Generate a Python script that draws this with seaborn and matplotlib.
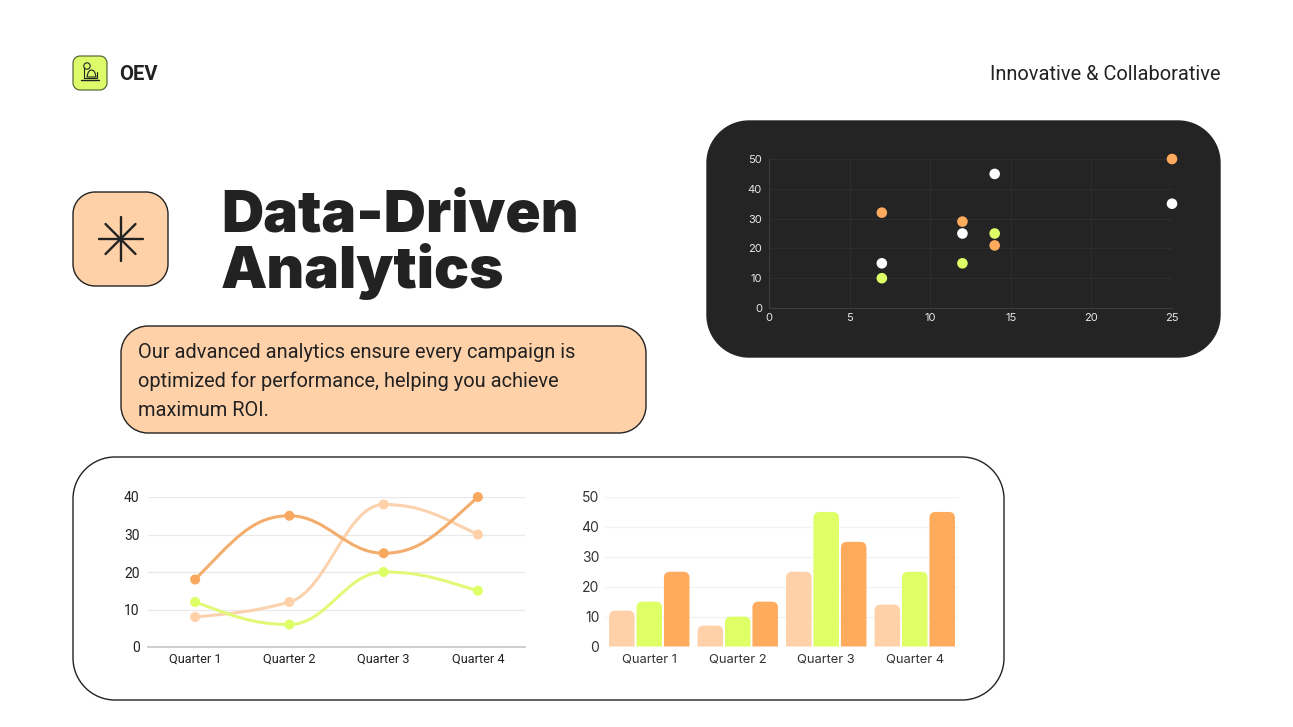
import numpy as np
import pandas as pd
import seaborn as sns
import matplotlib.pyplot as plt
from matplotlib.patches import PathPatch
from matplotlib.path import Path

W, H = 1293, 727

PEACH = '#FFD1A9'
LIME = '#DEFF66'
ORANGE = '#FFAB5E'
DARK = '#242424'
INK = '#222222'

quarters = ['Quarter 1', 'Quarter 2', 'Quarter 3', 'Quarter 4']

# line chart
line_peach = [8, 12, 38, 30]
line_lime = [12, 6, 20, 15]
line_orange = [18, 35, 25, 40]

# bar chart
bar_peach = [12, 7, 25, 14]
bar_lime = [15, 10, 45, 25]
bar_orange = [25, 15, 35, 45]

# scatter chart
scatter_x = [7, 12, 14, 25]
scatter_orange = [32, 29, 21, 50]
scatter_white = [15, 25, 45, 35]
scatter_lime = [10, 15, 25, None]

sns.set_theme(style='white')
plt.rcParams['font.family'] = ['Inter', 'DejaVu Sans']


def px_axes(fig, left, top, right, bottom, **kwargs):
    return fig.add_axes([left / W, 1 - bottom / H, (right - left) / W, (bottom - top) / H], **kwargs)


def round_box(ax, left, top, right, bottom, r, face, edge=INK, lw=1.0):
    # rounded rectangle with circular corners
    k = r * 0.448
    verts = [
        (left + r, top), (right - r, top),
        (right - k, top), (right, top + k), (right, top + r),
        (right, bottom - r),
        (right, bottom - k), (right - k, bottom), (right - r, bottom),
        (left + r, bottom),
        (left + k, bottom), (left, bottom - k), (left, bottom - r),
        (left, top + r),
        (left, top + k), (left + k, top), (left + r, top),
        (left + r, top),
    ]
    c3 = [Path.CURVE4] * 3
    codes = [Path.MOVETO, Path.LINETO] + c3 + [Path.LINETO] + c3 + [Path.LINETO] + c3 + [Path.LINETO] + c3 + [Path.CLOSEPOLY]
    ax.add_patch(PathPatch(Path(verts, codes), facecolor=face, edgecolor=edge, linewidth=lw))


def monotone_path(values):
    # monotone cubic through the points, written as bezier segments
    y = np.array(values, dtype=float)
    d = np.diff(y)
    t = np.zeros(len(y))
    for i in range(1, len(y) - 1):
        if d[i - 1] * d[i] > 0:
            t[i] = 2 * d[i - 1] * d[i] / (d[i - 1] + d[i])
    t[0] = (3 * d[0] - t[1]) / 2
    t[-1] = (3 * d[-1] - t[-2]) / 2
    verts = [(0, y[0])]
    codes = [Path.MOVETO]
    for i in range(len(d)):
        verts += [(i + 0.4, y[i] + 0.4 * t[i]), (i + 0.6, y[i + 1] - 0.4 * t[i + 1]), (i + 1, y[i + 1])]
        codes += [Path.CURVE4] * 3
    return Path(verts, codes)


def round_top_bars(ax, radius_px=6):
    # seaborn draws plain rectangles, swap each for one with a rounded top
    bars = list(ax.patches)
    pos = ax.get_position()
    rx = radius_px * np.diff(ax.get_xlim())[0] / (pos.width * W)
    ry = radius_px * np.diff(ax.get_ylim())[0] / (pos.height * H)
    for bar in bars:
        x, w, h = bar.get_x(), bar.get_width(), bar.get_height()
        if h == 0:
            continue
        verts = [(x, 0), (x, h - ry), (x, h), (x + rx, h), (x + w - rx, h), (x + w, h), (x + w, h - ry), (x + w, 0), (x, 0)]
        codes = [Path.MOVETO, Path.LINETO, Path.CURVE3, Path.CURVE3, Path.LINETO, Path.CURVE3, Path.CURVE3, Path.LINETO, Path.CLOSEPOLY]
        ax.add_patch(PathPatch(Path(verts, codes), facecolor=bar.get_facecolor(), edgecolor='none', zorder=2))
        bar.set_visible(False)


fig = plt.figure(figsize=(W / 100, H / 100), dpi=100, facecolor='white')

# page layer, in pixel coordinates
page = fig.add_axes([0, 0, 1, 1], zorder=0)
page.set_xlim(0, W)
page.set_ylim(H, 0)
page.axis('off')

round_box(page, 73, 56, 107, 90, 7, '#DCFB6B', edge='#4A5A2A', lw=0.8)
round_box(page, 73, 192, 168, 286, 22, PEACH)
round_box(page, 121, 326, 646, 433, 27, PEACH)
round_box(page, 707, 121, 1220, 357, 42, DARK, edge=DARK)
round_box(page, 73, 457, 1004, 700, 42, 'white')

# logo glyph
page.plot([81, 99], [80, 80], color=INK, lw=1.0)
page.plot([84, 84, 97, 97], [68, 78, 78, 72], color=INK, lw=0.8)
page.add_patch(PathPatch(Path([(87, 77), (88, 70), (91.5, 70), (95, 70), (96, 77), (87, 77)],
                              [Path.MOVETO, Path.CURVE3, Path.CURVE3, Path.CURVE3, Path.CURVE3, Path.CLOSEPOLY]),
                         facecolor='none', edgecolor=INK, lw=0.8))
page.add_patch(plt.Circle((87, 66), 3.2, facecolor='none', edgecolor=INK, lw=0.8))

# asterisk glyph
for dx, dy in [(22, 0), (0, 22), (15, 15), (15, -15)]:
    page.plot([120.5 - dx, 120.5 + dx], [239 - dy, 239 + dy], color=INK, lw=1.7)

page.text(119.5, 74.5, 'OEV', family=['Roboto', 'DejaVu Sans'], fontsize=14.5, fontweight='bold', color=INK, va='center')
page.text(1220, 74.5, 'Innovative & Collaborative', family=['Roboto', 'DejaVu Sans'], fontsize=14.45, color=INK, va='center', ha='right')
page.text(221, 231, 'Data-Driven', family=['Inter', 'DejaVu Sans'], fontsize=42, fontweight='black', color=INK, va='baseline')
page.text(221, 288, 'Analytics', family=['Inter', 'DejaVu Sans'], fontsize=42, fontweight='black', color=INK, va='baseline')
for y, txt in zip([358, 387, 416], ['Our advanced analytics ensure every campaign is',
                                    'optimized for performance, helping you achieve',
                                    'maximum ROI.']):
    page.text(138, y, txt, family=['Roboto', 'DejaVu Sans'], fontsize=14.45, color=INK, va='baseline')

# scatter chart
ax_sc = px_axes(fig, 769, 159, 1172, 308, zorder=2)
sc_df = pd.DataFrame({
    'x': scatter_x * 3,
    'y': scatter_orange + scatter_white + scatter_lime,
    'series': ['orange'] * 4 + ['white'] * 4 + ['lime'] * 4,
}).dropna()
sns.scatterplot(data=sc_df, x='x', y='y', hue='series',
                palette={'orange': ORANGE, 'white': 'white', 'lime': LIME},
                s=58, linewidth=0, legend=False, clip_on=False, zorder=3, ax=ax_sc)
ax_sc.set_xlim(0, 25)
ax_sc.set_ylim(0, 50)
ax_sc.set_xticks(range(0, 26, 5))
ax_sc.set_yticks(range(0, 51, 10))
ax_sc.set_xlabel('')
ax_sc.set_ylabel('')
ax_sc.patch.set_alpha(0)
ax_sc.grid(True, color='#2E2E2E', lw=0.7)
ax_sc.tick_params(colors='#E8E8E8', labelsize=8, length=0)
ax_sc.tick_params(axis='x', pad=3.5)
ax_sc.tick_params(axis='y', pad=5)
for name, spine in ax_sc.spines.items():
    spine.set_visible(name in ('left', 'bottom'))
    spine.set_color('#3C3C3C')
    spine.set_linewidth(0.8)

# line chart
ax_ln = px_axes(fig, 148, 497, 525, 647, zorder=2)
ln_df = pd.DataFrame({
    'quarter': quarters * 3,
    'value': line_peach + line_lime + line_orange,
    'series': ['peach'] * 4 + ['lime'] * 4 + ['orange'] * 4,
})
sns.scatterplot(data=ln_df, x='quarter', y='value', hue='series',
                palette={'peach': PEACH, 'lime': LIME, 'orange': '#F9A860'},
                s=52, linewidth=0, legend=False, clip_on=False, zorder=4, ax=ax_ln)
for values, color in [(line_peach, '#FBD2AE'), (line_lime, '#E1F977'), (line_orange, '#F3AD6C')]:
    ax_ln.add_patch(PathPatch(monotone_path(values), facecolor='none', edgecolor=color, lw=2.2, zorder=3))
ax_ln.set_xlim(-0.5, 3.5)
ax_ln.set_ylim(0, 40)
ax_ln.set_yticks(range(0, 41, 10))
ax_ln.set_xlabel('')
ax_ln.set_ylabel('')
ax_ln.patch.set_alpha(0)
ax_ln.grid(True, axis='y', color='#E9E9E9', lw=0.9)
ax_ln.tick_params(length=0, colors=INK)
ax_ln.tick_params(axis='x', labelsize=9.2, pad=4)
ax_ln.tick_params(axis='y', labelsize=10, pad=6)
for label in ax_ln.get_xticklabels() + ax_ln.get_yticklabels():
    label.set_family(['Roboto', 'DejaVu Sans'])
for name, spine in ax_ln.spines.items():
    spine.set_visible(name == 'bottom')
    spine.set_color('#C8C8C8')

# bar chart
ax_br = px_axes(fig, 605, 497, 959, 646.5, zorder=2)
br_df = pd.DataFrame({
    'quarter': quarters * 3,
    'value': bar_peach + bar_lime + bar_orange,
    'series': ['peach'] * 4 + ['lime'] * 4 + ['orange'] * 4,
})
sns.barplot(data=br_df, x='quarter', y='value', hue='series',
            palette={'peach': PEACH, 'lime': LIME, 'orange': ORANGE},
            width=0.93, gap=0.07, saturation=1, legend=False, ax=ax_br)
ax_br.set_xlim(-0.5, 3.5)
ax_br.set_ylim(0, 50)
ax_br.set_yticks(range(0, 51, 10))
ax_br.set_xlabel('')
ax_br.set_ylabel('')
ax_br.patch.set_alpha(0)
ax_br.set_axisbelow(True)
ax_br.grid(True, axis='y', color='#F3F3F3', lw=0.9)
ax_br.tick_params(length=0, colors='#333333')
ax_br.tick_params(axis='x', labelsize=9.3, pad=5)
ax_br.tick_params(axis='y', labelsize=10, pad=4)
sns.despine(ax=ax_br, left=True, bottom=True)
round_top_bars(ax_br)

fig.savefig('out.png', dpi=100)
plt.close(fig)
